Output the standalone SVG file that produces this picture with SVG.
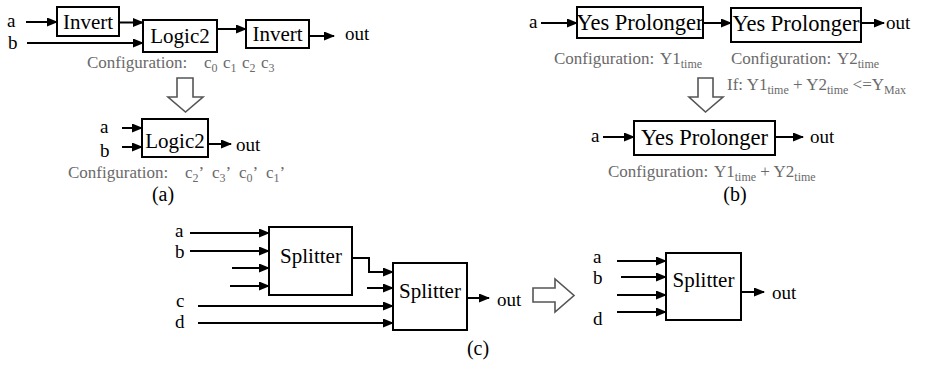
<svg xmlns="http://www.w3.org/2000/svg" width="927" height="369" viewBox="0 0 927 369" font-family="'Liberation Serif', 'Times New Roman', 'DejaVu Serif', serif">
<style>
text{font-family:'Liberation Serif','Times New Roman','DejaVu Serif',serif;fill:#000}
.lbl{font-size:19px}
.nt{font-size:21px;text-anchor:middle}
.yp{font-size:22.5px;text-anchor:middle}
.cfg{font-size:17px;fill:#6a6a6a}
.sub{font-size:12px}
.box{fill:#fff;stroke:#000;stroke-width:2}
.w{fill:none;stroke:#000;stroke-width:2;marker-end:url(#ah)}
.hol{fill:#fff;stroke:#555;stroke-width:1.6}
.cap{font-size:20px;text-anchor:middle}
</style>
<defs>
<marker id="ah" markerUnits="userSpaceOnUse" markerWidth="11" markerHeight="9" refX="10" refY="4.5" orient="auto">
<path d="M0,0 L11,4.5 L0,9 z" fill="#000"/>
</marker>
</defs>
<rect width="927" height="369" fill="#fff"/>

<g id="connectors">
<line class="w" x1="26" y1="22" x2="57" y2="22"/>
<line class="w" x1="27" y1="43" x2="143" y2="43"/>
<line class="w" x1="119" y1="22.5" x2="143" y2="22.5"/>
<line class="w" x1="217" y1="29" x2="246" y2="29"/>
<line class="w" x1="309" y1="36" x2="334" y2="36"/>
<line class="w" x1="122" y1="128" x2="142" y2="128"/>
<line class="w" x1="122" y1="147" x2="142" y2="147"/>
<line class="w" x1="208" y1="144" x2="231" y2="144"/>
<line class="w" x1="541" y1="23" x2="577" y2="23"/>
<line class="w" x1="703" y1="23" x2="731" y2="23"/>
<line class="w" x1="861" y1="23" x2="884" y2="23"/>
<line class="w" x1="603" y1="137" x2="634" y2="137"/>
<line class="w" x1="775" y1="137" x2="803" y2="137"/>
<line class="w" x1="190" y1="233" x2="269" y2="233"/>
<line class="w" x1="190" y1="251" x2="269" y2="251"/>
<line class="w" x1="232" y1="268" x2="269" y2="268"/>
<line class="w" x1="230" y1="286" x2="269" y2="286"/>
<polyline class="w" points="352,258 369,258 369,272 393,272"/>
<line class="w" x1="367" y1="288" x2="393" y2="288"/>
<line class="w" x1="198" y1="306" x2="393" y2="306"/>
<line class="w" x1="198" y1="323" x2="393" y2="323"/>
<line class="w" x1="467" y1="298" x2="489" y2="298"/>
<line class="w" x1="617" y1="261" x2="666" y2="261"/>
<line class="w" x1="621" y1="277" x2="666" y2="277"/>
<line class="w" x1="617" y1="295" x2="666" y2="295"/>
<line class="w" x1="617" y1="312" x2="666" y2="312"/>
<line class="w" x1="741" y1="292" x2="764" y2="292"/>
</g>

<g id="transforms">
<polygon class="hol" points="177,78 193,78 193,97 203,97 185.5,112 168,97 177,97"/>
<polygon class="hol" points="698,78 713,78 713,97 723,97 705.5,112 689,97 698,97"/>
<polygon class="hol" points="533,288 555,288 555,279 574,295.5 555,312 555,302 533,302"/>
</g>

<g id="invert1"><rect class="box" x="57" y="7" width="62" height="29"/><text class="nt" x="88" y="29">Invert</text></g>
<g id="logic2a"><rect class="box" x="143" y="20" width="74" height="32"/><text class="nt" x="180" y="43">Logic2</text></g>
<g id="invert2"><rect class="box" x="246" y="20" width="63" height="28"/><text class="nt" x="277.5" y="41">Invert</text></g>
<g id="logic2b"><rect class="box" x="142" y="119" width="66" height="38"/><text class="nt" x="175" y="148">Logic2</text></g>

<g id="yp1"><rect class="box" x="577" y="7" width="126" height="31"/><text class="yp" x="640" y="30">Yes Prolonger</text></g>
<g id="yp2"><rect class="box" x="731" y="8" width="130" height="34"/><text class="yp" x="796" y="31">Yes Prolonger</text></g>
<g id="yp3"><rect class="box" x="634" y="121" width="141" height="34"/><text class="yp" x="704.5" y="145">Yes Prolonger</text></g>

<g id="splitter1"><rect class="box" x="269" y="227" width="83" height="68"/><text class="nt" x="311" y="263">Splitter</text></g>
<g id="splitter2"><rect class="box" x="393" y="263" width="74" height="67"/><text class="nt" x="430" y="298">Splitter</text></g>
<g id="splitter3"><rect class="box" x="666" y="253" width="75" height="67"/><text class="nt" x="703.5" y="287">Splitter</text></g>

<g id="labels">
<text class="lbl" x="7" y="27">a</text>
<text class="lbl" x="8" y="49">b</text>
<text class="lbl" x="345" y="40">out</text>
<text class="cfg" x="87" y="68">Configuration:<tspan x="204">c</tspan><tspan class="sub" dy="3.5">0</tspan><tspan x="223" dy="-3.5">c</tspan><tspan class="sub" dy="3.5">1</tspan><tspan x="242" dy="-3.5">c</tspan><tspan class="sub" dy="3.5">2</tspan><tspan x="261" dy="-3.5">c</tspan><tspan class="sub" dy="3.5">3</tspan></text>
<text class="lbl" x="100" y="133">a</text>
<text class="lbl" x="100" y="157">b</text>
<text class="lbl" x="236" y="151">out</text>
<text class="cfg" x="68" y="178">Configuration:<tspan x="185">c</tspan><tspan class="sub" dy="3.5">2</tspan><tspan dy="-3.5">’</tspan><tspan x="212">c</tspan><tspan class="sub" dy="3.5">3</tspan><tspan dy="-3.5">’</tspan><tspan x="239">c</tspan><tspan class="sub" dy="3.5">0</tspan><tspan dy="-3.5">’</tspan><tspan x="266">c</tspan><tspan class="sub" dy="3.5">1</tspan><tspan dy="-3.5">’</tspan></text>
<text class="cap" x="163" y="201">(a)</text>

<text class="lbl" x="529" y="28">a</text>
<text class="lbl" x="886" y="29">out</text>
<text class="cfg" x="554" y="64">Configuration:<tspan x="660">Y1</tspan><tspan class="sub" dy="3.5">time</tspan></text>
<text class="cfg" x="731" y="64">Configuration:<tspan x="837">Y2</tspan><tspan class="sub" dy="3.5">time</tspan></text>
<text class="cfg" x="727" y="90">If: Y1<tspan class="sub" dy="3.5">time</tspan><tspan dy="-3.5"> + Y2</tspan><tspan class="sub" dy="3.5">time</tspan><tspan dy="-3.5"> &lt;=Y</tspan><tspan class="sub" dy="3.5">Max</tspan></text>
<text class="lbl" x="591" y="142">a</text>
<text class="lbl" x="810" y="143">out</text>
<text class="cfg" x="608" y="177">Configuration:<tspan x="714">Y1</tspan><tspan class="sub" dy="3.5">time</tspan><tspan dy="-3.5"> + Y2</tspan><tspan class="sub" dy="3.5">time</tspan></text>
<text class="cap" x="735" y="201">(b)</text>

<text class="lbl" x="175" y="237">a</text>
<text class="lbl" x="175" y="258">b</text>
<text class="lbl" x="176" y="307">c</text>
<text class="lbl" x="175" y="328">d</text>
<text class="lbl" x="497" y="306">out</text>
<text class="cap" x="478" y="355">(c)</text>

<text class="lbl" x="593" y="263">a</text>
<text class="lbl" x="593" y="284">b</text>
<text class="lbl" x="593" y="325">d</text>
<text class="lbl" x="772" y="299">out</text>
</g>
</svg>
